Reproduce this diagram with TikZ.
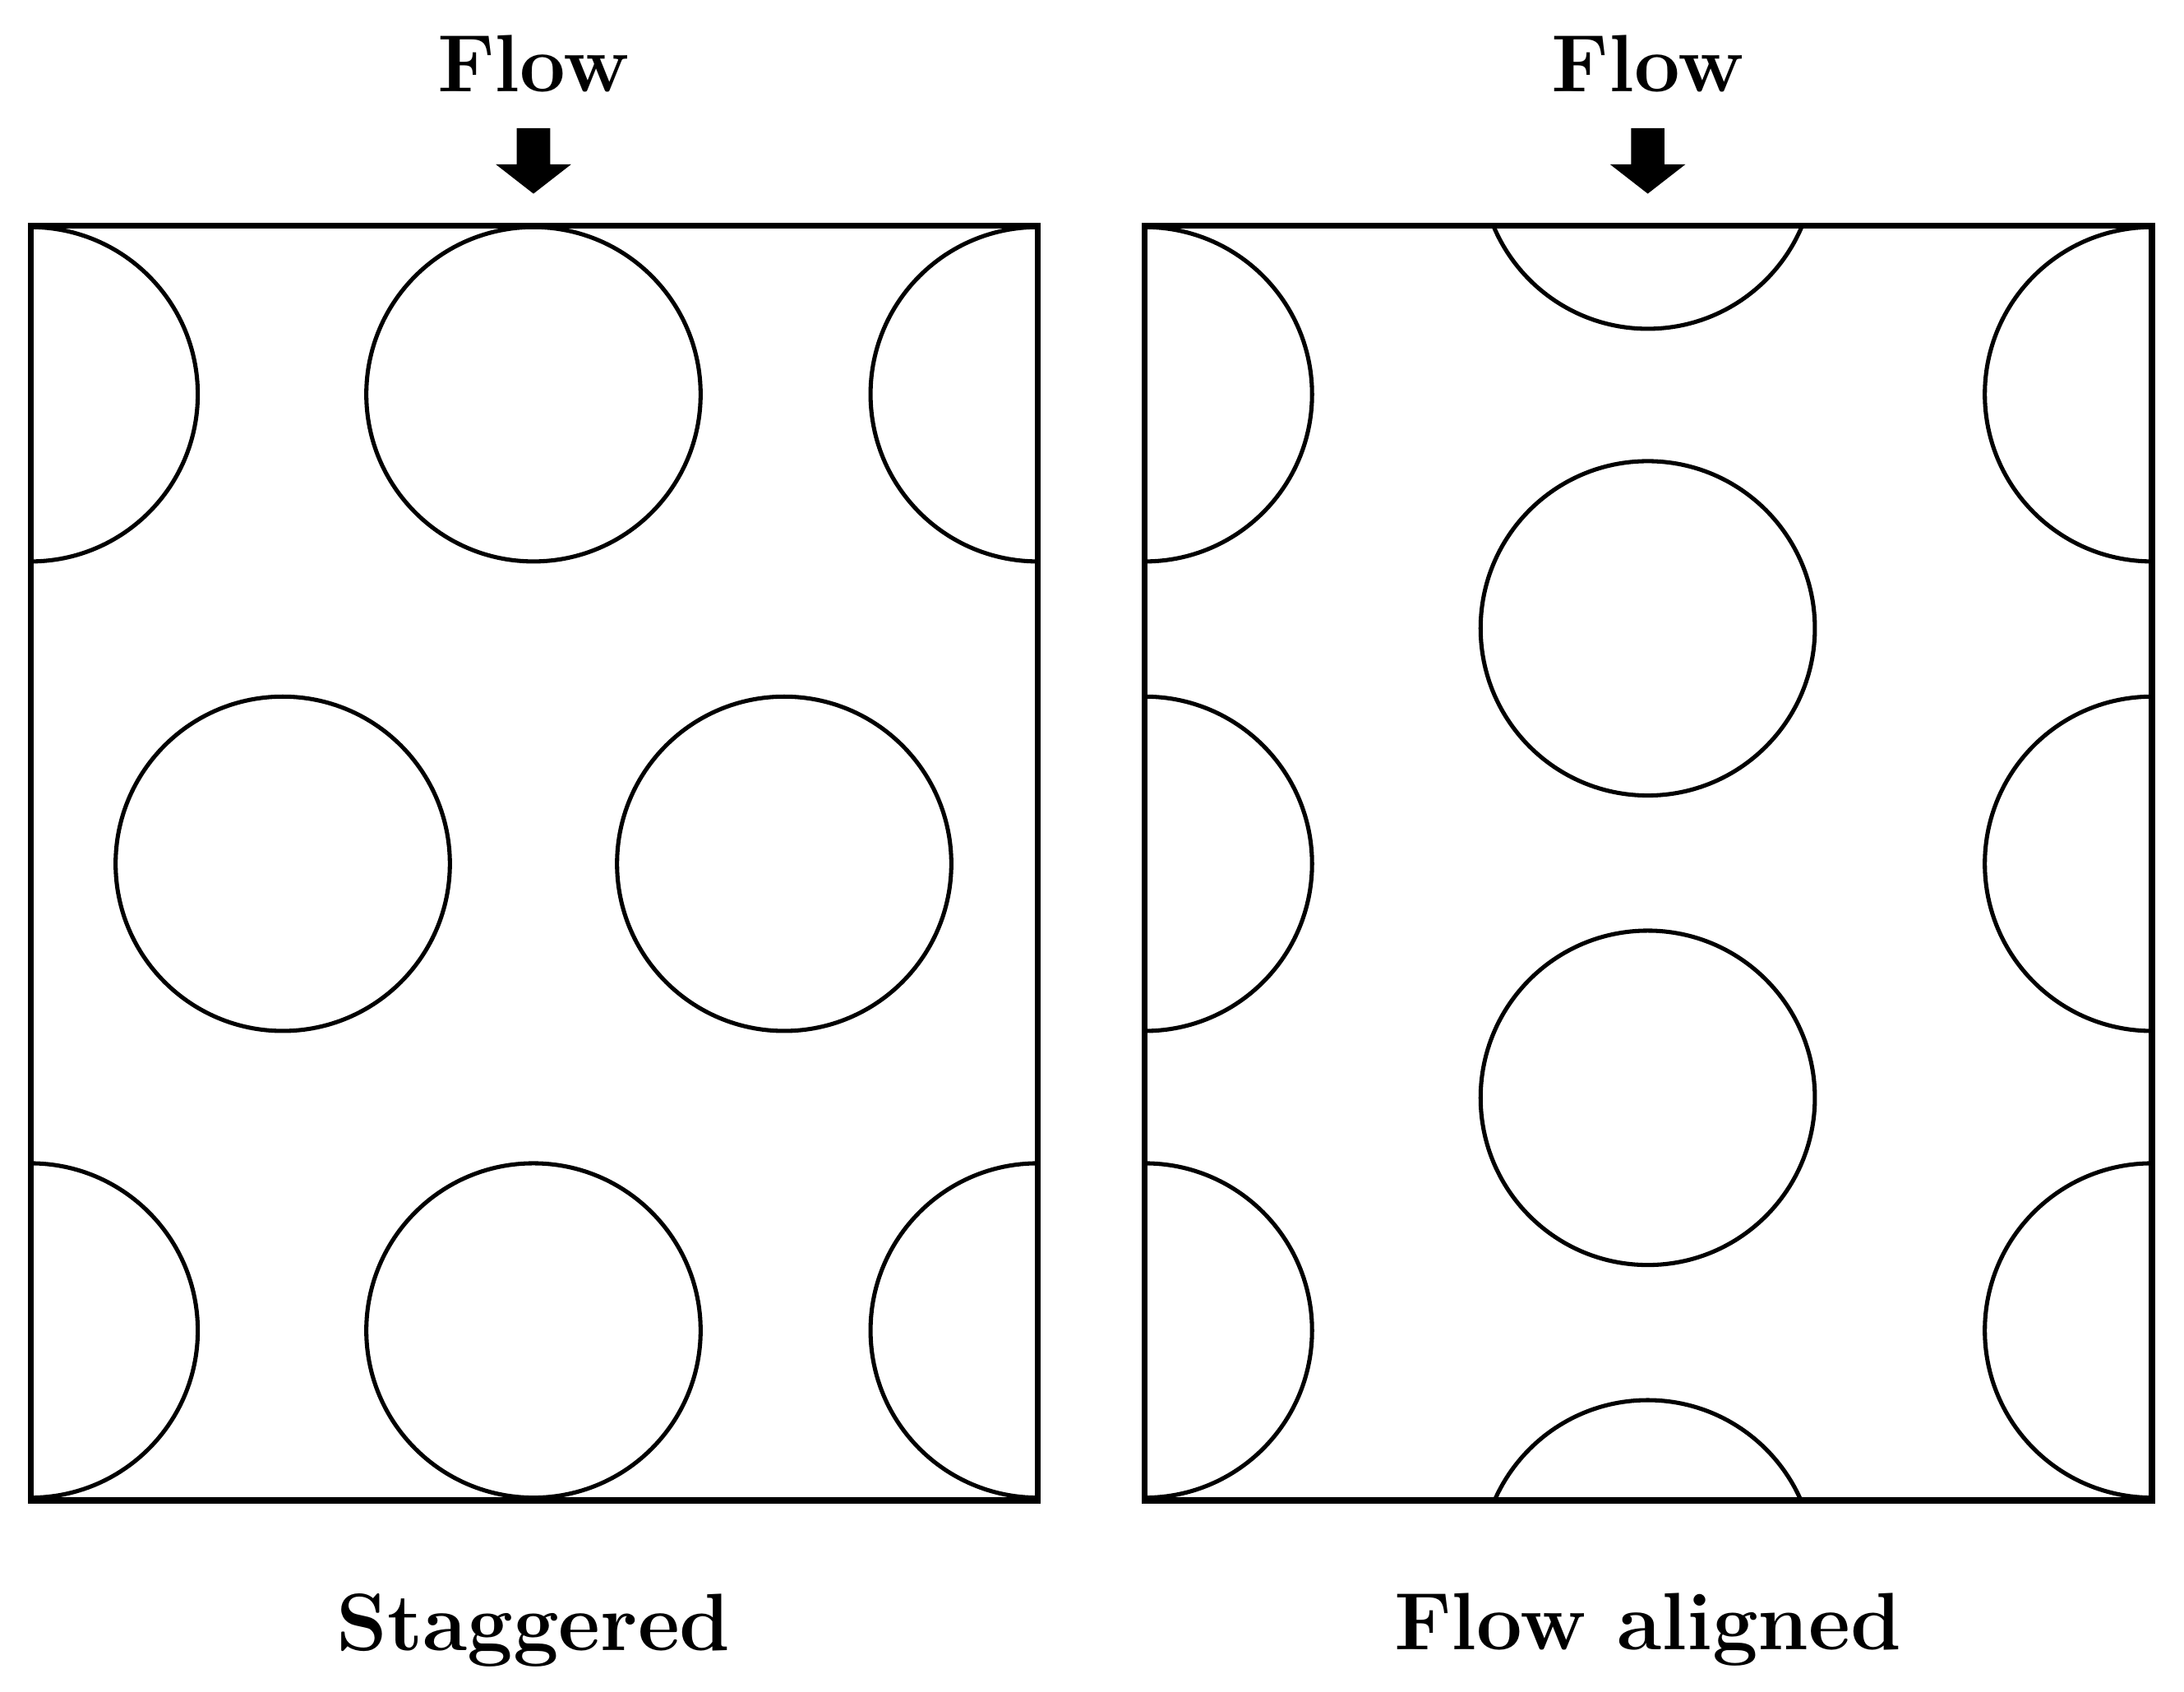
\documentclass[tikz,border=0pt]{standalone}
\begin{document}
\begin{tikzpicture}[x=0.01cm,y=-0.01cm,
  tube/.style={line width=0.85pt},
  wall/.style={line width=1.2pt},
  lbl/.style={font=\fontsize{16.6}{20}\selectfont\bfseries},
  flowarrow/.style={fill=black}]
\useasboundingbox (0,0) rectangle (1568,1214);
% left panel
\begin{scope}
\clip (22,162) rectangle (745,1077);
\foreach \x/\y in {22/283,383/283,745/283,203/620,563/620,22/955,383/955,745/955}
  \draw[tube] (\x,\y) circle[radius=120];
\end{scope}
\draw[wall] (22,162) rectangle (745,1077);
% right panel
\begin{scope}
\clip (822,162) rectangle (1545,1077);
\foreach \x/\y in {1183/116,822/283,1545/283,1183/451,822/620,1545/620,1183/788,822/955,1545/955,1183/1125}
  \draw[tube] (\x,\y) circle[radius=120];
\end{scope}
\draw[wall] (822,162) rectangle (1545,1077);
% arrows
\foreach \cx in {383,1183}
  \fill[flowarrow] (\cx-12,92) -- (\cx+12,92) -- (\cx+12,118) -- (\cx+27,118) -- (\cx,139) -- (\cx-27,118) -- (\cx-12,118) -- cycle;
\node[lbl] (f1) at (383,46) {Flow};
\node[lbl] (f2) at (1183,46) {Flow};
\node[lbl] (s1) at (383,1170) {Staggered};
\node[lbl] (s2) at (1183,1170) {Flow aligned};
\end{tikzpicture}
\end{document}
